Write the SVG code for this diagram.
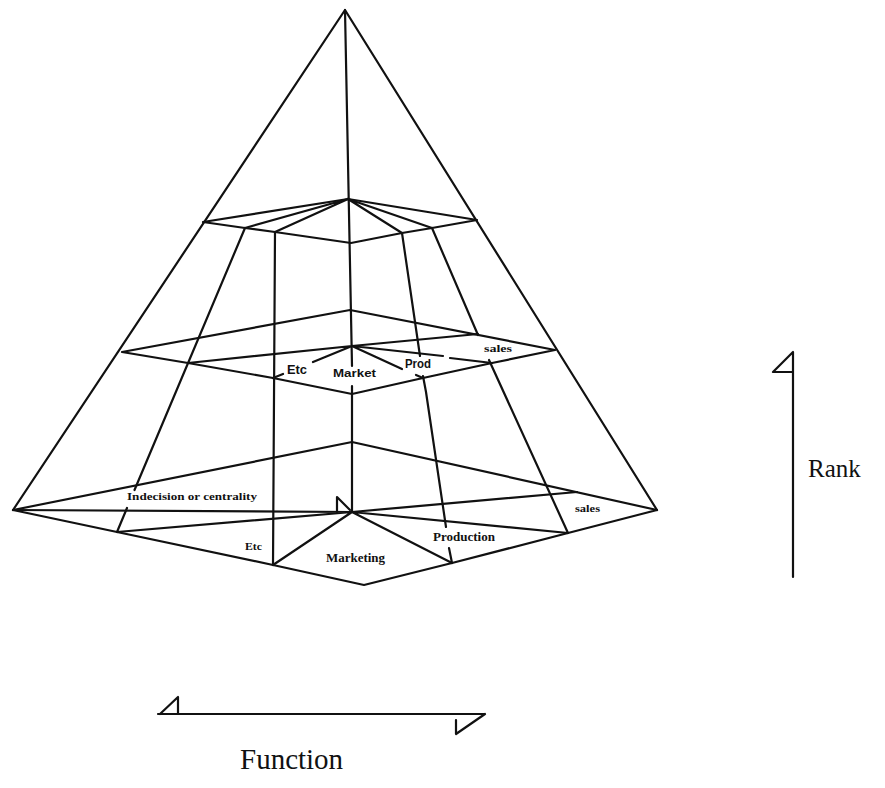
<svg xmlns="http://www.w3.org/2000/svg" width="885" height="788" viewBox="0 0 885 788">
<style>
.l{fill:none;stroke:#111;stroke-width:2.2;stroke-linejoin:round;stroke-linecap:round}
.s{font-family:"Liberation Serif",serif;font-weight:bold;fill:#111}
.n{font-family:"Liberation Sans",sans-serif;fill:#111}
.big{font-family:"Liberation Serif",serif;fill:#111}
</style>
<rect width="885" height="788" fill="#fff"/>
<g id="pyramid-outline">
<path class="l" d="M13,510 L345,10 L657,510"/>
</g>
<g id="connectors">
<path class="l" d="M345,10 L352,366 M352,386 L352,512"/>
<path class="l" d="M245,228 L134.5,490 M127,508 L117,532"/>
<path class="l" d="M275,232 L273,565"/>
<path class="l" d="M402,233 L420,356 M423,376 L426,392 L446,527 M449,548 L452,563"/>
<path class="l" d="M432,228 L478,335 M489,360 L568,533"/>
</g>
<g id="layer-top">
<path class="l" d="M203,222 L348,199 L477,220 M203,222 L245,228 L275,232 L351,243 L402,233 L432,228 L477,220"/>
<path class="l" d="M348,199 L245,228 M348,199 L275,232 M348,199 L402,233 M348,199 L432,228"/>
</g>
<g id="layer-middle">
<path class="l" d="M122,352 L350,310 L555,350 M122,352 L188,363 L273,378 L352,394 L423,378 L492,363 L555,350"/>
<path class="l" d="M352,346 L188,363 M352,346 L313,362 M283,374 L273,378 M352,346 L402,369 M416,375 L423,378 M352,346 L443,356 M450,358 L492,363 M352,346 L478,334"/>
</g>
<g id="layer-bottom">
<path class="l" d="M13,510 L352,442 L657,510 M13,510 L117,532 L273,565 L364,585 L452,563 L568,533 L657,510"/>
<path class="l" d="M352,512 L13,510 M352,512 L117,532 M352,512 L273,565 M352,512 L452,563 M352,512 L568,533 M352,512 L577,492"/>
<path class="l" d="M337,512 L337,497 L350,510"/>
</g>
<g id="labels-middle">
<text class="n" x="287" y="374" font-size="12" font-weight="bold" textLength="20" lengthAdjust="spacingAndGlyphs">Etc</text>
<text class="n" x="333" y="377" font-size="11" font-weight="bold" textLength="43" lengthAdjust="spacingAndGlyphs">Market</text>
<text class="n" x="405" y="368" font-size="12" font-weight="bold" textLength="26" lengthAdjust="spacingAndGlyphs">Prod</text>
<text class="s" x="484" y="352" font-size="10" textLength="28" lengthAdjust="spacingAndGlyphs">sales</text>
</g>
<g id="labels-bottom">
<text class="s" x="127" y="500" font-size="11" textLength="130" lengthAdjust="spacingAndGlyphs">Indecision or centrality</text>
<text class="s" x="245" y="550" font-size="11" textLength="17" lengthAdjust="spacingAndGlyphs">Etc</text>
<text class="s" x="326" y="562" font-size="12" textLength="59" lengthAdjust="spacingAndGlyphs">Marketing</text>
<text class="s" x="433" y="541" font-size="12" textLength="62" lengthAdjust="spacingAndGlyphs">Production</text>
<text class="s" x="575" y="512" font-size="10" textLength="25" lengthAdjust="spacingAndGlyphs">sales</text>
</g>
<g id="rank-axis">
<path class="l" d="M793,352 L793,577 M793,352 L773,372 L793,372"/>
<text class="big" x="808" y="477" font-size="25">Rank</text>
</g>
<g id="function-axis">
<path class="l" d="M158,714 L485,714 M178,697 L178,714 M178,697 L160,714 M485,714 L456,734 L456,720"/>
<text class="big" x="240" y="769" font-size="29">Function</text>
</g>
</svg>
